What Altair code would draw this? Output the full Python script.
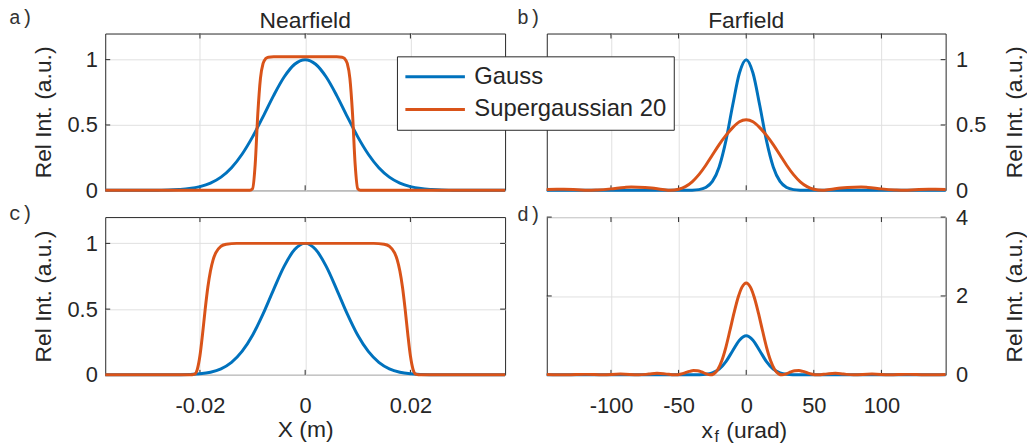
import altair as alt
import pandas as pd

# ---------------- data ----------------
SERIES = ["Gauss", "Supergaussian 20"]
COLORS = ["#0072BD", "#D95319"]
PANEL_LABELS = ["a)", "b)", "c)", "d)"]
PANEL_TITLES = ["Nearfield", "Farfield"]
Y_TITLE = "Rel Int. (a.u.)"
NF_X_TITLE = "X (m)"
FF_X_TITLE = ["x", "f", "(urad)"]

NF_TICKS = [-0.02, 0, 0.02]
FF_TICKS = [-100, -50, 0, 50, 100]
Y_TICKS_TOP = [0, 0.5, 1]
Y_TICKS_D = [0, 2, 4]
NF_DOMAIN = [-0.038, 0.038]
FF_DOMAIN = [-147.5, 147.5]
Y_DOMAIN_TOP = [0, 1.2]
Y_DOMAIN_D = [0, 4]

# nearfield (X in m)
NF_GAUSS_X = [-0.038, -0.034, -0.030, -0.028, -0.026, -0.024, -0.022, -0.020, -0.018,
              -0.016, -0.014, -0.012, -0.010, -0.008, -0.006, -0.004, -0.002, 0.0,
              0.002, 0.004, 0.006, 0.008, 0.010, 0.012, 0.014, 0.016, 0.018, 0.020,
              0.022, 0.024, 0.026, 0.028, 0.030, 0.034, 0.038]
A_GAUSS_Y = [0.0, 0.0, 0.0, 0.001, 0.002, 0.006, 0.013, 0.028, 0.055, 0.101, 0.173,
             0.276, 0.409, 0.564, 0.725, 0.867, 0.965, 1.0, 0.965, 0.867, 0.725, 0.564,
             0.409, 0.276, 0.173, 0.101, 0.055, 0.028, 0.013, 0.006, 0.002, 0.001,
             0.0, 0.0, 0.0]
C_GAUSS_Y = [0.0, 0.0, 0.0, 0.0, 0.0, 0.001, 0.003, 0.008, 0.020, 0.046, 0.095, 0.178,
             0.301, 0.464, 0.649, 0.825, 0.953, 1.0, 0.953, 0.825, 0.649, 0.464, 0.301,
             0.178, 0.095, 0.046, 0.020, 0.008, 0.003, 0.001, 0.0, 0.0, 0.0, 0.0, 0.0]

A_SUPER_X = [-0.038, -0.012, -0.0105, -0.010, -0.0095, -0.009, -0.0085, -0.008, -0.0075,
             -0.007, -0.006, 0.0, 0.006, 0.007, 0.0075, 0.008, 0.0085, 0.009, 0.0095,
             0.010, 0.0105, 0.012, 0.038]
A_SUPER_Y = [0.0, 0.0, 0.0, 0.011, 0.198, 0.587, 0.857, 0.971, 1.008, 1.019, 1.023,
             1.023, 1.023, 1.019, 1.008, 0.971, 0.857, 0.587, 0.198, 0.011, 0.0, 0.0, 0.0]

C_SUPER_X = [-0.038, -0.022, -0.021, -0.0205, -0.020, -0.0195, -0.019, -0.0185, -0.018,
             -0.0175, -0.017, -0.016, -0.015, -0.013, 0.0, 0.013, 0.015, 0.016, 0.017,
             0.0175, 0.018, 0.0185, 0.019, 0.0195, 0.020, 0.0205, 0.021, 0.022, 0.038]
C_SUPER_Y = [0.0, 0.0, 0.006, 0.042, 0.145, 0.312, 0.5, 0.666, 0.79, 0.875, 0.928, 0.978,
             0.994, 1.0, 1.0, 1.0, 0.994, 0.978, 0.928, 0.875, 0.79, 0.666, 0.5, 0.312,
             0.145, 0.042, 0.006, 0.0, 0.0]

# farfield (x_f in urad)
FF_GAUSS_X = [-147.5, -60, -45, -40, -35, -30, -25, -20, -15, -10, -5, 0,
              5, 10, 15, 20, 25, 30, 35, 40, 45, 60, 147.5]
B_GAUSS_Y = [0.0, 0.0, 0.0, 0.001, 0.005, 0.021, 0.068, 0.179, 0.380, 0.651, 0.898, 1.0,
             0.898, 0.651, 0.380, 0.179, 0.068, 0.021, 0.005, 0.001, 0.0, 0.0, 0.0]
D_GAUSS_Y = [0.0, 0.0, 0.0, 0.0, 0.003, 0.013, 0.049, 0.144, 0.335, 0.612, 0.878, 0.99,
             0.878, 0.612, 0.335, 0.144, 0.049, 0.013, 0.003, 0.0, 0.0, 0.0, 0.0]

B_SUPER_X = [-147.5, -140, -135, -125, -117, -110, -100, -90, -85, -80, -70, -62, -56,
             -50, -45, -40, -35, -30, -25, -20, -15, -10, -5, 0, 5, 10, 15, 20, 25, 30,
             35, 40, 45, 50, 56, 62, 70, 80, 85, 90, 100, 110, 117, 125, 135, 140, 147.5]
B_SUPER_Y = [0.006, 0.008, 0.008, 0.004, 0.0, 0.003, 0.011, 0.022, 0.025, 0.024, 0.017,
             0.006, 0.0, 0.008, 0.028, 0.065, 0.12, 0.19, 0.27, 0.35, 0.42, 0.48, 0.525,
             0.54, 0.525, 0.48, 0.42, 0.35, 0.27, 0.19, 0.12, 0.065, 0.028, 0.008, 0.0,
             0.006, 0.017, 0.024, 0.025, 0.022, 0.011, 0.003, 0.0, 0.004, 0.008, 0.008,
             0.006]

D_SUPER_X = [-147.5, -132.5, -119, -106, -93, -79.5, -72, -66, -60, -53, -48, -45, -42,
             -39, -36, -33, -30, -26.5, -24, -21, -18, -15, -12, -9, -6, -3, 0, 3, 6, 9,
             12, 15, 18, 21, 24, 26.5, 30, 33, 36, 39, 42, 45, 48, 53, 60, 66, 72, 79.5,
             93, 106, 119, 132.5, 147.5]
D_SUPER_Y = [0.008, 0.0, 0.012, 0.0, 0.019, 0.0, 0.019, 0.038, 0.025, 0.0, 0.023, 0.054,
             0.087, 0.108, 0.104, 0.074, 0.030, 0.0, 0.025, 0.138, 0.365, 0.705, 1.13,
             1.57, 1.96, 2.23, 2.33, 2.23, 1.96, 1.57, 1.13, 0.705, 0.365, 0.138, 0.025,
             0.0, 0.030, 0.074, 0.104, 0.108, 0.087, 0.054, 0.023, 0.0, 0.025, 0.038,
             0.019, 0.0, 0.019, 0.0, 0.012, 0.0, 0.008]

# ---------------- styling ----------------
FONT = "Liberation Sans"
MONO = "Liberation Mono"
INK = "#262626"
GRID = "#e0e0e0"
W_L, W_R = 403, 402
H_T, H_B = 158, 159
LBL = "replace(format(datum.value, '~g'), '\u2212', '-')"

LEGEND = alt.Legend(orient="none", legendX=294, legendY=23, title=None,
                    symbolType="stroke", symbolSize=3600, symbolStrokeWidth=3,
                    labelFont=FONT, labelFontSize=24, labelColor=INK, labelOffset=8,
                    labelLimit=400, padding=7, clipHeight=27, rowPadding=6,
                    strokeColor=INK, fillColor="white")
COLOR_SCALE = alt.Scale(domain=SERIES, range=COLORS)


def x_axis(values, labels, title=None):
    kw = dict(values=values, grid=True, gridColor=GRID, gridWidth=1, ticks=False,
              domain=False, labels=labels)
    if labels:
        kw.update(labelFont=FONT, labelFontSize=22, labelColor=INK, labelPadding=21,
                  labelExpr=LBL)
    if title:
        kw.update(title=title, titleFont=FONT, titleFontSize=23, titleFontWeight="normal",
                  titleColor=INK, titleY=44)
    else:
        kw["title"] = None
    return alt.Axis(**kw)


def y_axis(orient, values, title_x, H):
    return alt.Axis(orient=orient, values=values, grid=True, gridColor=GRID, gridWidth=1,
                    ticks=False, domain=False, labelFont=FONT, labelFontSize=22,
                    labelColor=INK, labelPadding=8 if orient == "left" else 10,
                    labelExpr=LBL, title=Y_TITLE, titleFont=FONT, titleFontSize=23,
                    titleFontWeight="normal", titleColor=INK, titleAngle=270,
                    titleX=title_x, titleY=H / 2, titleAlign="center",
                    titleBaseline="middle")


def text(t, x, y, size, font=FONT, align="left", color=INK):
    return alt.Chart(pd.DataFrame({"t": [t]})).mark_text(
        align=align, baseline="alphabetic", fontSize=size, font=font, color=color
    ).encode(text="t:N", x=alt.value(x), y=alt.value(y))


def panel(gx, gy, sx, sy, xdom, ydom, xticks, yticks, xax, yax, W, H, extra):
    xs = alt.Scale(domain=xdom, nice=False, zero=False)
    ys = alt.Scale(domain=ydom, nice=False, zero=False)
    X = alt.X("x:Q", scale=xs, axis=xax)
    Y = alt.Y("y:Q", scale=ys, axis=yax)
    col = alt.Color("series:N", scale=COLOR_SCALE, legend=LEGEND)
    xt = pd.DataFrame({"x": xticks})
    yt = pd.DataFrame({"y": yticks})
    tick_b = alt.Chart(xt).mark_rule(color=INK, strokeWidth=1).encode(
        x=X, y=alt.value(H), y2=alt.value(H - 5))
    tick_t = alt.Chart(xt).mark_rule(color=INK, strokeWidth=1).encode(
        x=X, y=alt.value(0), y2=alt.value(5))
    tick_l = alt.Chart(yt).mark_rule(color=INK, strokeWidth=1).encode(
        y=Y, x=alt.value(0), x2=alt.value(5))
    tick_r = alt.Chart(yt).mark_rule(color=INK, strokeWidth=1).encode(
        y=Y, x=alt.value(W), x2=alt.value(W - 5))
    g = alt.Chart(pd.DataFrame({"x": gx, "y": gy, "series": SERIES[0]})).mark_line(
        strokeWidth=3, interpolate="monotone").encode(x=X, y=Y, color=col)
    s = alt.Chart(pd.DataFrame({"x": sx, "y": sy, "series": SERIES[1]})).mark_line(
        strokeWidth=3, interpolate="monotone").encode(x=X, y=Y, color=col)
    return alt.layer(tick_b, tick_t, tick_l, tick_r, g, s, *extra).properties(
        width=W, height=H)


pa = panel(NF_GAUSS_X, A_GAUSS_Y, A_SUPER_X, A_SUPER_Y, NF_DOMAIN, Y_DOMAIN_TOP,
           NF_TICKS, Y_TICKS_TOP, x_axis(NF_TICKS, False),
           y_axis("left", Y_TICKS_TOP, -62, H_T), W_L, H_T,
           [text(PANEL_LABELS[0], -97, -10, 20, MONO, color="#333333"),
            text(PANEL_TITLES[0], W_L / 2, -6, 23, align="center")])
pb = panel(FF_GAUSS_X, B_GAUSS_Y, B_SUPER_X, B_SUPER_Y, FF_DOMAIN, Y_DOMAIN_TOP,
           FF_TICKS, Y_TICKS_TOP, x_axis(FF_TICKS, False),
           y_axis("right", Y_TICKS_TOP, 69, H_T), W_R, H_T,
           [text(PANEL_LABELS[1], -30, -10, 20, MONO, color="#333333"),
            text(PANEL_TITLES[1], W_R / 2, -6, 23, align="center")])
pc = panel(NF_GAUSS_X, C_GAUSS_Y, C_SUPER_X, C_SUPER_Y, NF_DOMAIN, Y_DOMAIN_TOP,
           NF_TICKS, Y_TICKS_TOP, x_axis(NF_TICKS, True, NF_X_TITLE),
           y_axis("left", Y_TICKS_TOP, -62, H_B), W_L, H_B,
           [text(PANEL_LABELS[2], -97, 3, 20, MONO, color="#333333")])
pdd = panel(FF_GAUSS_X, D_GAUSS_Y, D_SUPER_X, D_SUPER_Y, FF_DOMAIN, Y_DOMAIN_D,
            FF_TICKS, Y_TICKS_D, x_axis(FF_TICKS, True),
            y_axis("right", Y_TICKS_D, 69, H_B), W_R, H_B,
            [text(PANEL_LABELS[3], -30, 4, 20, MONO, color="#333333"),
             text(FF_X_TITLE[0], 156, 223, 23),
             text(FF_X_TITLE[1], 169, 227, 16),
             text(FF_X_TITLE[2], 181, 223, 23)])

chart = alt.concat(pa, pb, pc, pdd, columns=2, spacing={"row": 27, "column": 42},
                   bounds="flush").properties(
    padding={"left": 0, "top": -3, "right": 0, "bottom": 0}, background="white"
).configure_view(stroke=INK, strokeWidth=1)

chart.save("out.html", embed_options={"renderer": "svg", "actions": False})
